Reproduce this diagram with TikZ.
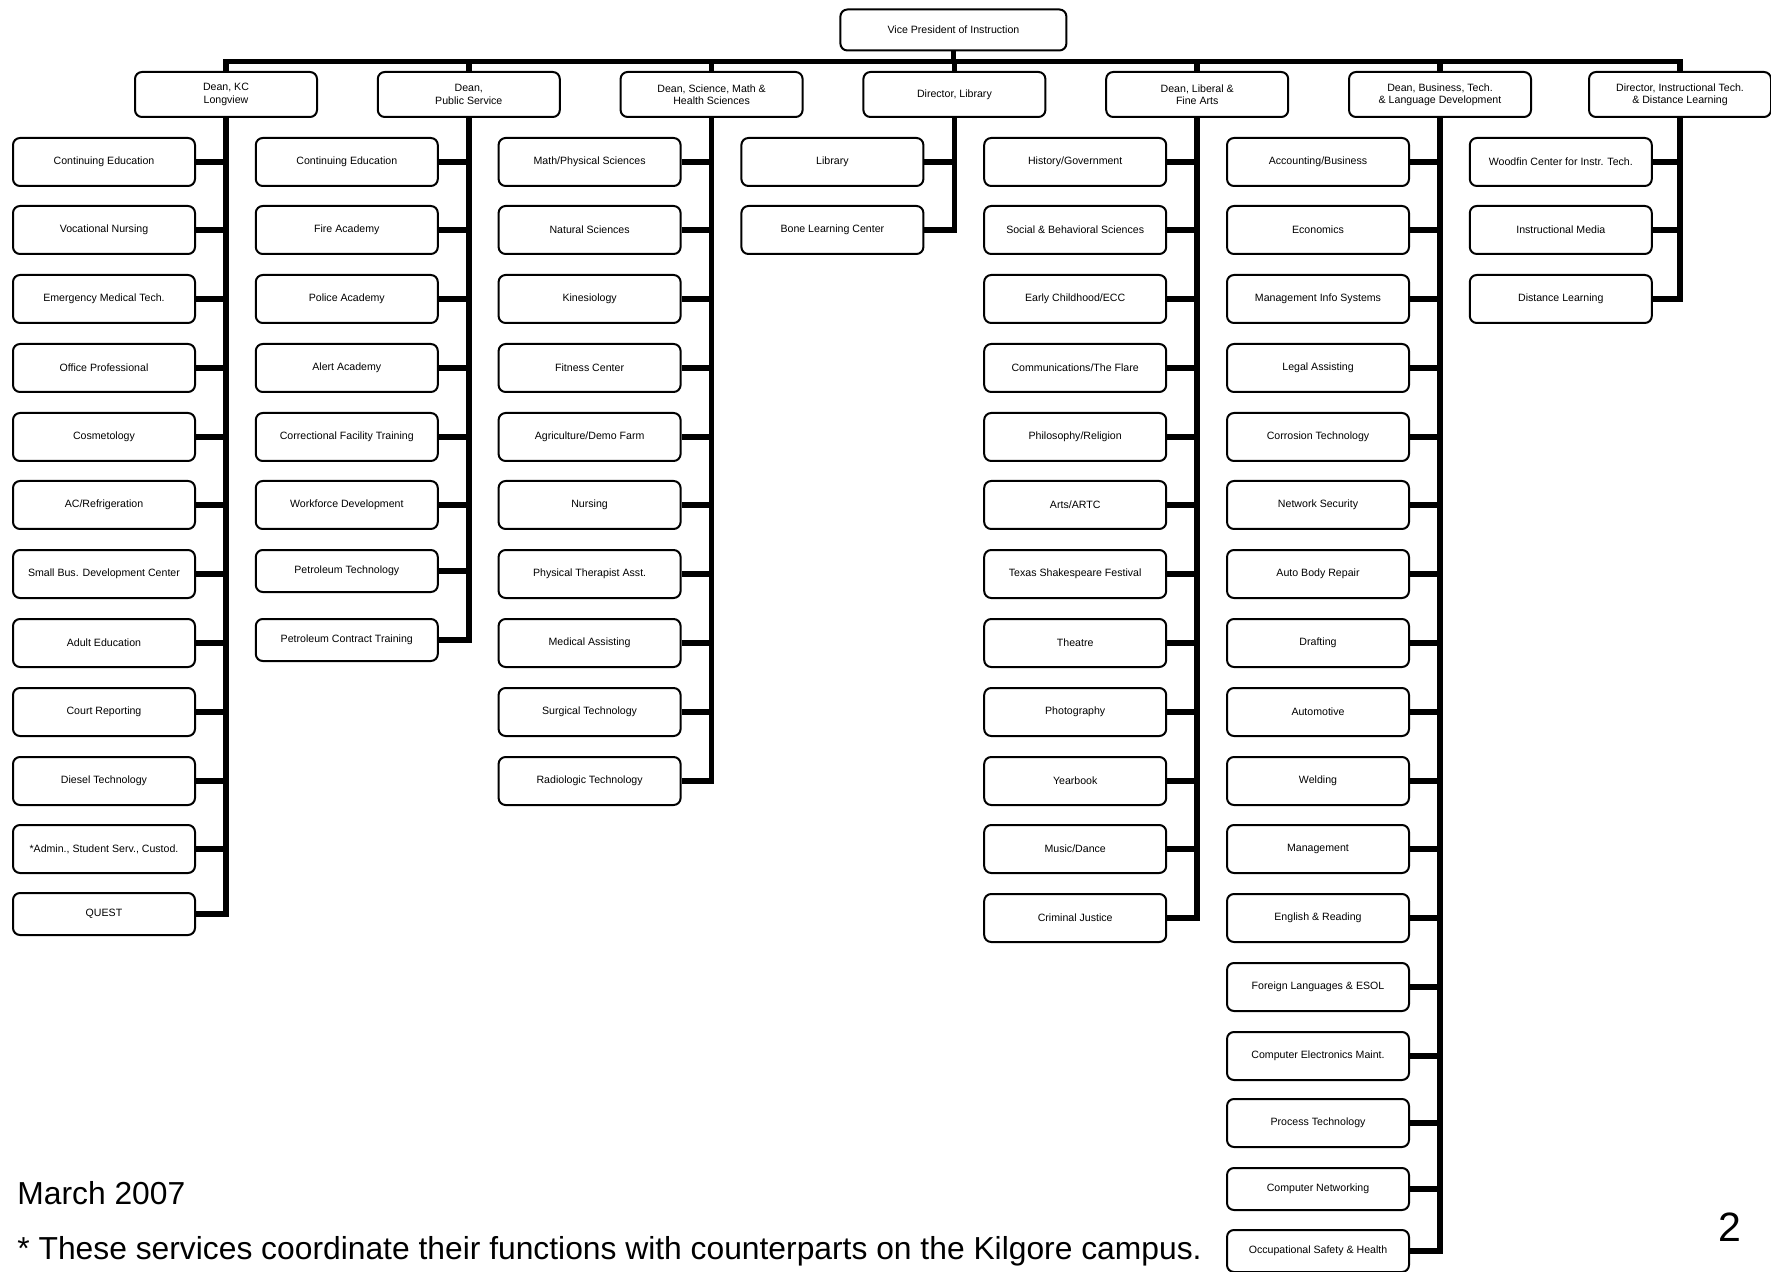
\documentclass[tikz,border=0pt]{standalone}
\usepackage{fontspec}
\setmainfont{Liberation Sans}
\tikzset{
  unitbox/.style={draw, line width=1pt, rounded corners=3.5pt, minimum width=91pt,
    minimum height=24pt, inner sep=0pt, align=center,
    font=\fontsize{5.3pt}{6.2pt}\selectfont},
  shortbox/.style={unitbox, minimum height=21pt},
  deanbox/.style={unitbox, minimum height=22.5pt},
  topbox/.style={unitbox, minimum width=113pt, minimum height=20.5pt},
  trunk/.style={line width=2.8pt, line join=miter},
  note/.style={inner sep=0pt, anchor=base west, font=\fontsize{15.9pt}{19pt}\selectfont}
}
\begin{document}
\begin{tikzpicture}[x=0.5pt, y=-0.5pt]
\useasboundingbox (0,0) rectangle (1771,1272);

% Vice President and deans
\node[topbox] (vp) at (953.4, 30) {Vice President of Instruction};
\node[deanbox] (kcl)  at (226, 94.5)    {Dean, KC\\Longview};
\node[deanbox] (pub)  at (468.8, 94.5)  {Dean,\\Public Service};
\node[deanbox] (smh)  at (711.6, 94.5)  {Dean, Science, Math \&\\Health Sciences};
\node[deanbox] (lib)  at (954.4, 94.5)  {Director, Library};
\node[deanbox] (lfa)  at (1197.2, 94.5) {Dean, Liberal \&\\Fine Arts};
\node[deanbox] (blt)  at (1440, 94.5)   {Dean, Business, Tech.\\\& Language Development};
\node[deanbox] (itdl) at (1680, 94.5)   {Director, Instructional Tech.\\\& Distance Learning};

% Dean, KC Longview
\node[unitbox] (kcl1)  at (104, 162) {Continuing Education};
\node[unitbox] (kcl2)  at (104, 230) {Vocational Nursing};
\node[unitbox] (kcl3)  at (104, 299) {Emergency Medical Tech.};
\node[unitbox] (kcl4)  at (104, 368) {Office Professional};
\node[unitbox] (kcl5)  at (104, 437) {Cosmetology};
\node[unitbox] (kcl6)  at (104, 505) {AC/Refrigeration};
\node[unitbox] (kcl7)  at (104, 574) {Small Bus. Development Center};
\node[unitbox] (kcl8)  at (104, 643) {Adult Education};
\node[unitbox] (kcl9)  at (104, 712) {Court Reporting};
\node[unitbox] (kcl10) at (104, 781) {Diesel Technology};
\node[unitbox] (kcl11) at (104, 849) {*Admin., Student Serv., Custod.};
\node[shortbox] (kcl12) at (104, 914) {QUEST};

% Dean, Public Service
\node[unitbox] (pub1) at (346.8, 162) {Continuing Education};
\node[unitbox] (pub2) at (346.8, 230) {Fire Academy};
\node[unitbox] (pub3) at (346.8, 299) {Police Academy};
\node[unitbox] (pub4) at (346.8, 368) {Alert Academy};
\node[unitbox] (pub5) at (346.8, 437) {Correctional Facility Training};
\node[unitbox] (pub6) at (346.8, 505) {Workforce Development};
\node[shortbox] (pub7) at (346.8, 571) {Petroleum Technology};
\node[shortbox] (pub8) at (346.8, 640) {Petroleum Contract Training};

% Dean, Science, Math & Health Sciences
\node[unitbox] (smh1)  at (589.6, 162) {Math/Physical Sciences};
\node[unitbox] (smh2)  at (589.6, 230) {Natural Sciences};
\node[unitbox] (smh3)  at (589.6, 299) {Kinesiology};
\node[unitbox] (smh4)  at (589.6, 368) {Fitness Center};
\node[unitbox] (smh5)  at (589.6, 437) {Agriculture/Demo Farm};
\node[unitbox] (smh6)  at (589.6, 505) {Nursing};
\node[unitbox] (smh7)  at (589.6, 574) {Physical Therapist Asst.};
\node[unitbox] (smh8)  at (589.6, 643) {Medical Assisting};
\node[unitbox] (smh9)  at (589.6, 712) {Surgical Technology};
\node[unitbox] (smh10) at (589.6, 781) {Radiologic Technology};

% Director, Library
\node[unitbox] (lib1) at (832.4, 162) {Library};
\node[unitbox] (lib2) at (832.4, 230) {Bone Learning Center};

% Dean, Liberal & Fine Arts
\node[unitbox] (lfa1)  at (1075.2, 162) {History/Government};
\node[unitbox] (lfa2)  at (1075.2, 230) {Social \& Behavioral Sciences};
\node[unitbox] (lfa3)  at (1075.2, 299) {Early Childhood/ECC};
\node[unitbox] (lfa4)  at (1075.2, 368) {Communications/The Flare};
\node[unitbox] (lfa5)  at (1075.2, 437) {Philosophy/Religion};
\node[unitbox] (lfa6)  at (1075.2, 505) {Arts/ARTC};
\node[unitbox] (lfa7)  at (1075.2, 574) {Texas Shakespeare Festival};
\node[unitbox] (lfa8)  at (1075.2, 643) {Theatre};
\node[unitbox] (lfa9)  at (1075.2, 712) {Photography};
\node[unitbox] (lfa10) at (1075.2, 781) {Yearbook};
\node[unitbox] (lfa11) at (1075.2, 849) {Music/Dance};
\node[unitbox] (lfa12) at (1075.2, 918) {Criminal Justice};

% Dean, Business, Tech. & Language Development
\node[unitbox] (blt1)  at (1318, 162)  {Accounting/Business};
\node[unitbox] (blt2)  at (1318, 230)  {Economics};
\node[unitbox] (blt3)  at (1318, 299)  {Management Info Systems};
\node[unitbox] (blt4)  at (1318, 368)  {Legal Assisting};
\node[unitbox] (blt5)  at (1318, 437)  {Corrosion Technology};
\node[unitbox] (blt6)  at (1318, 505)  {Network Security};
\node[unitbox] (blt7)  at (1318, 574)  {Auto Body Repair};
\node[unitbox] (blt8)  at (1318, 643)  {Drafting};
\node[unitbox] (blt9)  at (1318, 712)  {Automotive};
\node[unitbox] (blt10) at (1318, 781)  {Welding};
\node[unitbox] (blt11) at (1318, 849)  {Management};
\node[unitbox] (blt12) at (1318, 918)  {English \& Reading};
\node[unitbox] (blt13) at (1318, 987)  {Foreign Languages \& ESOL};
\node[unitbox] (blt14) at (1318, 1056) {Computer Electronics Maint.};
\node[unitbox] (blt15) at (1318, 1123) {Process Technology};
\node[shortbox] (blt16) at (1318, 1189) {Computer Networking};
\node[shortbox] (blt17) at (1318, 1251) {Occupational Safety \& Health};

% Director, Instructional Tech. & Distance Learning
\node[unitbox] (itdl1) at (1560.8, 162) {Woodfin Center for Instr. Tech.};
\node[unitbox] (itdl2) at (1560.8, 230) {Instructional Media};
\node[unitbox] (itdl3) at (1560.8, 299) {Distance Learning};

% connectors
\draw[trunk] (vp.south) -- ++(0,10) coordinate (bar);
\draw[trunk] (kcl.north) |- (bar) -| (itdl.north);
\foreach \d in {pub, smh, lib, lfa, blt}
  \draw[trunk] (\d.north) -- (\d.north |- bar);
\foreach \d/\n in {kcl/12, pub/8, smh/10, lib/2, lfa/12, blt/17, itdl/3} {
  \draw[trunk] (\d.south) |- (\d\n.east);
  \foreach \i in {1,...,\n}
    \draw[trunk] (\d\i.east) -- (\d\i.east -| \d.south);
}

% notes
\node[note] (date) at (17, 1204) {March 2007};
\node[note] (foot) at (17, 1259) {* These services coordinate their functions with counterparts on the Kilgore campus.};
\node[note, font=\fontsize{20.5pt}{24pt}\selectfont] (page) at (1718, 1241) {2};
\end{tikzpicture}
\end{document}
